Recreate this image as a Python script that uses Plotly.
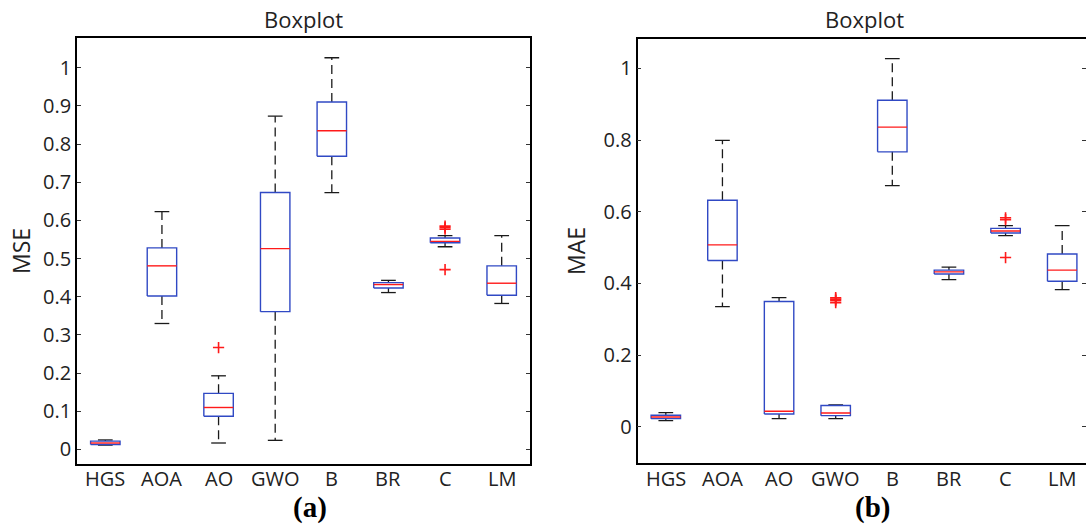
import plotly.graph_objects as go

categories = ["HGS", "AOA", "AO", "GWO", "B", "BR", "C", "LM"]

# MSE boxplot statistics (panel a)
mse_lower = [0.0115, 0.330, 0.017, 0.024, 0.673, 0.411, 0.531, 0.3825]
mse_q1 = [0.013, 0.402, 0.087, 0.361, 0.768, 0.423, 0.5415, 0.404]
mse_median = [0.017, 0.481, 0.110, 0.526, 0.835, 0.432, 0.545, 0.4355]
mse_q3 = [0.022, 0.528, 0.147, 0.673, 0.910, 0.437, 0.554, 0.481]
mse_upper = [0.025, 0.623, 0.193, 0.873, 1.026, 0.443, 0.560, 0.560]
mse_out_cat = ["AO", "C", "C", "C", "C"]
mse_out_val = [0.267, 0.577, 0.581, 0.585, 0.471]

# MAE boxplot statistics (panel b)
mae_lower = [0.017, 0.335, 0.0226, 0.0226, 0.673, 0.4107, 0.533, 0.3825]
mae_q1 = [0.0226, 0.464, 0.0357, 0.031, 0.767, 0.426, 0.5404, 0.406]
mae_median = [0.027, 0.5075, 0.0432, 0.0385, 0.836, 0.432, 0.546, 0.437]
mae_q3 = [0.032, 0.632, 0.3496, 0.0592, 0.911, 0.437, 0.5536, 0.482]
mae_upper = [0.0395, 0.799, 0.360, 0.061, 1.027, 0.4455, 0.561, 0.561]
mae_out_cat = ["GWO", "GWO", "GWO", "GWO", "C", "C", "C"]
mae_out_val = [0.346, 0.352, 0.356, 0.360, 0.578, 0.583, 0.472]

mse_yticks = [0, 0.1, 0.2, 0.3, 0.4, 0.5, 0.6, 0.7, 0.8, 0.9, 1]
mae_yticks = [0, 0.2, 0.4, 0.6, 0.8, 1]

W, H = 1086, 529
BOX_HALF = 0.26
CAP_HALF = 0.13
BLUE = "#3049c4"
RED = "#ff1a1a"
BLACK = "#1a1a1a"
TICKFONT = dict(family="Open Sans", size=20, color="#222222")

fig = go.Figure()


def add_panel(xa, ya, lower, q1, med, q3, upper, out_cat, out_val):
    pos = {c: i + 1 for i, c in enumerate(categories)}
    wx, wy, bx, by, mx, my, cx, cy = [], [], [], [], [], [], [], []
    for i, c in enumerate(categories):
        p = pos[c]
        wx += [p, p, None, p, p, None]
        wy += [q3[i], upper[i], None, q1[i], lower[i], None]
        bx += [p - BOX_HALF, p + BOX_HALF, p + BOX_HALF, p - BOX_HALF, p - BOX_HALF, None]
        by += [q1[i], q1[i], q3[i], q3[i], q1[i], None]
        mx += [p - BOX_HALF, p + BOX_HALF, None]
        my += [med[i], med[i], None]
        cx += [p - CAP_HALF, p + CAP_HALF, None, p - CAP_HALF, p + CAP_HALF, None]
        cy += [upper[i], upper[i], None, lower[i], lower[i], None]
    common = dict(xaxis=xa, yaxis=ya, mode="lines", showlegend=False, hoverinfo="skip")
    fig.add_trace(go.Scatter(x=wx, y=wy, line=dict(color=BLACK, width=1.3, dash="9px,5px"), **common))
    fig.add_trace(go.Scatter(x=cx, y=cy, line=dict(color=BLACK, width=1.3), **common))
    fig.add_trace(go.Scatter(x=bx, y=by, line=dict(color=BLUE, width=1.4), **common))
    fig.add_trace(go.Scatter(x=mx, y=my, line=dict(color=RED, width=1.4), **common))
    fig.add_trace(go.Scatter(
        x=[pos[c] for c in out_cat], y=out_val, xaxis=xa, yaxis=ya, mode="markers",
        marker=dict(symbol="cross-thin", size=8, line=dict(color=RED, width=1.6)),
        showlegend=False, hoverinfo="skip"))


add_panel("x", "y", mse_lower, mse_q1, mse_median, mse_q3, mse_upper, mse_out_cat, mse_out_val)
add_panel("x2", "y2", mae_lower, mae_q1, mae_median, mae_q3, mae_upper, mae_out_cat, mae_out_val)
# empty trace to hold the right-side tick axis of panel (b)
fig.add_trace(go.Scatter(x=[], y=[], xaxis="x2", yaxis="y3", showlegend=False, hoverinfo="skip"))

# pixel layout
L1, R1 = 77, 530
L2 = 637.5
T1, B1 = 38.3, 464
T2, B2 = 39.3, 463.3
px_per_unit = (R1 - L1) / 8.0
x2_max = 0.5 + (W - L2) / px_per_unit

tickpos = list(range(1, len(categories) + 1))
xcommon = dict(tickvals=tickpos, ticks="", showticklabels=False, showgrid=False, zeroline=False,
               showline=True, mirror=True, linecolor="black", linewidth=1.6, fixedrange=True)
ycommon = dict(ticks="inside", ticklen=4, tickcolor="#333333", showgrid=False, zeroline=False,
               tickfont=TICKFONT, fixedrange=True)

fig.update_layout(
    width=W, height=H,
    margin=dict(l=0, r=0, t=0, b=0, autoexpand=False),
    paper_bgcolor="white", plot_bgcolor="white",
    xaxis=dict(domain=[L1 / W, R1 / W], range=[0.5, 8.5], anchor="y", **xcommon),
    yaxis=dict(domain=[1 - B1 / H, 1 - T1 / H], range=[-0.038, 1.077], tickvals=mse_yticks,
               ticktext=[f"{v:g}" for v in mse_yticks], showline=True, mirror="ticks",
               linecolor="black", linewidth=1.6, anchor="x", **ycommon),
    xaxis2=dict(domain=[L2 / W, 1.0], range=[0.5, x2_max], anchor="y2", **xcommon),
    yaxis2=dict(domain=[1 - B2 / H, 1 - T2 / H], range=[-0.102, 1.081], tickvals=mae_yticks,
                ticktext=[f"{v:g}" for v in mae_yticks], showline=True, mirror=False,
                linecolor="black", linewidth=1.6, anchor="x2", **ycommon),
    yaxis3=dict(overlaying="y2", side="right", anchor="x2", range=[-0.102, 1.081],
                tickvals=mae_yticks, showticklabels=False, showline=False,
                ticks="inside", ticklen=4, tickcolor="#333333", showgrid=False,
                zeroline=False, fixedrange=True),
)

ann = []
# category tick labels, placed on the data x positions
for xa in ("x", "x2"):
    for i, c in enumerate(categories):
        ann.append(dict(text=c, x=tickpos[i], xref=xa, y=1 - 478 / H, yref="paper",
                        showarrow=False, font=TICKFONT, xanchor="center", yanchor="middle"))

title_font = dict(family="Open Sans", size=22, color="#222222")
label_font = dict(family="Open Sans", size=23, color="#222222")
sub_font = dict(family="Liberation Serif", size=29, color="black")
ann.append(dict(text="Boxplot", x=(L1 + R1) / 2 / W, y=1 - 18.5 / H, xref="paper", yref="paper",
                showarrow=False, font=title_font, xanchor="center", yanchor="middle"))
ann.append(dict(text="Boxplot", x=864 / W, y=1 - 18.5 / H, xref="paper", yref="paper",
                showarrow=False, font=title_font, xanchor="center", yanchor="middle"))
ann.append(dict(text="MSE", x=21 / W, y=1 - 251 / H, xref="paper", yref="paper", textangle=-90,
                showarrow=False, font=label_font, xanchor="center", yanchor="middle"))
ann.append(dict(text="MAE", x=576 / W, y=1 - 251 / H, xref="paper", yref="paper", textangle=-90,
                showarrow=False, font=label_font, xanchor="center", yanchor="middle"))
ann.append(dict(text="<b>(a)</b>", x=310 / W, y=1 - 507 / H, xref="paper", yref="paper",
                showarrow=False, font=sub_font, xanchor="center", yanchor="middle"))
ann.append(dict(text="<b>(b)</b>", x=872 / W, y=1 - 507 / H, xref="paper", yref="paper",
                showarrow=False, font=sub_font, xanchor="center", yanchor="middle"))
fig.update_layout(annotations=ann)

fig.write_html(
    "out.html",
    config={"displayModeBar": False},
    post_script="document.body.style.margin='0';document.body.style.overflow='hidden';",
)
